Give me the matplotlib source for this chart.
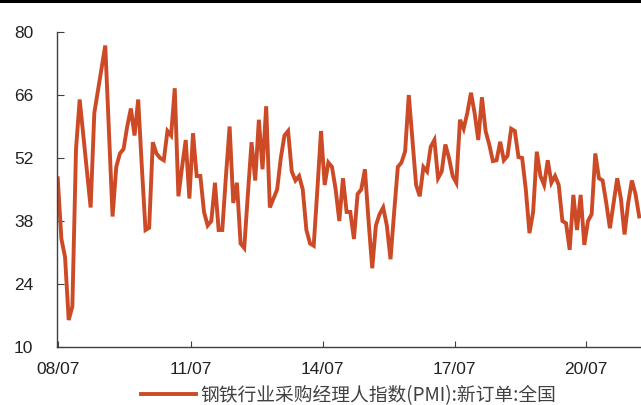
import matplotlib
matplotlib.use("Agg")
import matplotlib.pyplot as plt
from matplotlib.lines import Line2D

# monthly steel PMI new orders, 2008/07 onwards
pmi_new_orders = [
    47.5, 34, 30, 16, 19, 54, 65, 57, 49, 41,
    62, 67, 72, 77, 58, 39, 50, 53, 54, 59,
    63, 57, 65, 50, 36, 36.5, 55.5, 53, 52, 51.5,
    58, 57, 67.5, 43.5, 50, 56, 43, 57.5, 48, 48,
    40, 37, 38, 46.5, 36, 36, 48, 59, 42, 46.5,
    33, 32, 44, 55.5, 47, 60.5, 49.5, 63.5, 41, 43,
    45, 52, 57, 58, 49, 47, 48, 45, 36, 33,
    32.5, 45, 58, 46, 51, 50, 45, 38, 47.5, 40,
    40, 34, 44, 45, 49.5, 38, 27.5, 37, 39.5, 41,
    37, 29.5, 40, 50, 51, 53.5, 66, 56, 46, 43.5,
    50, 49, 54.5, 56, 47.5, 49, 55, 52, 48, 46.5,
    60.5, 58.5, 62, 66.5, 62, 56, 65.5, 58, 55, 51.3,
    51.5, 55.6, 51.5, 52.5, 58.5, 58, 52.2, 52, 45, 35.3,
    40, 53.4, 48, 46, 51.5, 46.5, 48, 46, 38, 37.5,
    31.6, 43.8, 36, 43.8, 32.7, 38, 39.5, 53, 47.5, 47,
    42, 36.4, 42, 47.5, 43, 35, 42, 47, 44, 39,
]
months = list(range(len(pmi_new_orders)))
tick_pos = [0, 36.5, 72.5, 108.5, 144.5]
tick_labels = ["08/07", "11/07", "14/07", "17/07", "20/07"]
y_ticks = [10, 24, 38, 52, 66, 80]
series_name = "钢铁行业采购经理人指数(PMI):新订单:全国"

plt.rcParams['font.family'] = ['Liberation Sans', 'DejaVu Sans']

fig = plt.figure(figsize=(6.41, 4.05), dpi=100)
ax = fig.add_axes([57/641, 58/405, 584/641, 315/405])

line, = ax.plot(months, pmi_new_orders, color='#CC4A26', lw=2.8,
                solid_joinstyle='miter', label=series_name)

ax.set_xlim(-0.2, 159.5)
ax.set_ylim(10, 80)
ax.set_yticks(y_ticks)
ax.set_xticks(tick_pos)
ax.set_xticklabels(tick_labels)

for s in ['top', 'right']:
    ax.spines[s].set_visible(False)
for s in ['left', 'bottom']:
    ax.spines[s].set_color('#404040')
    ax.spines[s].set_linewidth(1.0)

ax.tick_params(axis='y', direction='in', length=5, pad=17, labelsize=12.5, colors='#222222')
ax.tick_params(axis='x', direction='in', length=4, pad=11, labelsize=12.5, colors='#222222')
ax.tick_params(axis='both', color='#404040')

# legend at the very bottom
leg = fig.legend(handles=[line], loc='center', bbox_to_anchor=(0.544, 0.024),
                 frameon=False, handlelength=2.9, handletextpad=0.25,
                 borderpad=0.1,
                 prop={'family': ['Noto Sans CJK SC', 'DejaVu Sans'], 'size': 13.5})
for t in leg.get_texts():
    t.set_color('#404040')

# thick rule across the top
fig.add_artist(Line2D([0, 1], [0.997, 0.997], color='black', lw=2.2,
                      transform=fig.transFigure))

fig.savefig("out.png", dpi=100)
